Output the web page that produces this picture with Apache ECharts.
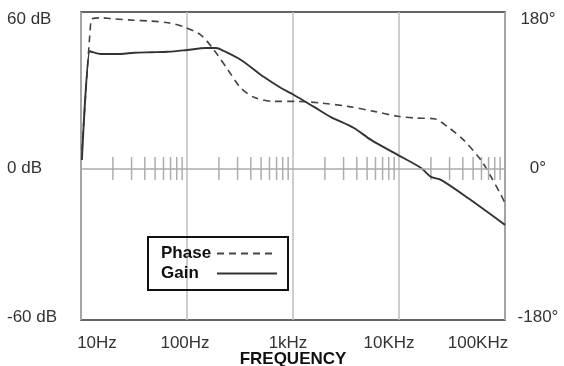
<!DOCTYPE html>
<html>
<head>
<meta charset="utf-8">
<script src="https://cdn.jsdelivr.net/npm/echarts@6/dist/echarts.min.js"></script>
<style>
html,body{margin:0;padding:0;background:#fff;}
#chart{width:564px;height:366px;}
</style>
</head>
<body>
<div id="chart"></div>
<script>
// ---- data ----
var gainFreq = [10.2, 12.1, 12.5, 15.4, 23.8, 31.6, 45.7, 66.2, 100, 151, 188, 223, 323, 533, 771, 1021, 1577, 2281, 3760, 5445, 9791, 16150, 20060, 24890, 44740, 100000];
var gainDb   = [3.4, 47.3, 47.0, 46.1, 46.1, 46.6, 46.8, 47.0, 47.7, 48.5, 48.5, 47.3, 43.7, 36.8, 32.4, 29.6, 24.8, 20.7, 16.3, 11.5, 5.4, 0.2, -3.4, -4.6, -11.9, -22.7];
var phaseFreq = [10.2, 12.4, 12.8, 15.4, 19.2, 31.6, 45.7, 66.2, 93.7, 135.6, 179.8, 243.6, 323, 428.5, 661.8, 1114, 1837, 3302, 5808, 9791, 13870, 21400, 28970, 41010, 59370, 73800, 91690, 100000];
var phaseDeg  = [22, 179, 181, 182, 181, 179, 178, 176, 171, 161, 143, 119, 97, 86, 81, 81, 79, 75, 69, 63, 61, 60, 50, 34, 10, -10, -32, -42];
var xTickValues = [10, 100, 1000, 10000, 100000];
var xTickLabels = ['10Hz', '100Hz', '1kHz', '10KHz', '100KHz'];
var dbTicks = [-60, 0, 60];
var degTicks = [-180, 0, 180];
var minorDecades = [10, 100, 1000, 10000];
var minorMultipliers = [2, 3, 4, 5, 6, 7, 8, 9];
var seriesNames = ['Phase', 'Gain'];

// ---- build ----
function zip(a, b) { return a.map(function (v, i) { return [v, b[i]]; }); }
var minorTicks = [];
minorDecades.forEach(function (d) { minorMultipliers.forEach(function (m) { minorTicks.push([d * m, 0]); }); });

var FONT = 'Liberation Sans, Arial, sans-serif';
// horizontal shift of each x label (px) relative to its tick
var xLabelShift = [16, -2, -5, -10, -27];
var rich = {};
xLabelShift.forEach(function (s, i) {
  rich['l' + i] = {
    fontFamily: FONT, fontSize: 17, color: '#333',
    padding: s >= 0 ? [0, 0, 0, 2 * s] : [0, -2 * s, 0, 0]
  };
});

var chart = echarts.init(document.getElementById('chart'), null, { renderer: 'canvas' });
chart.setOption({
  animation: false,
  backgroundColor: '#fff',
  grid: { left: 81, right: 59, top: 12, bottom: 46, outerBoundsMode: 'none', containLabel: false,
    show: true, borderColor: '#333', borderWidth: 1.6, backgroundColor: 'transparent' },
  legend: {
    orient: 'vertical', left: 148, top: 237, align: 'right',
    itemWidth: 60, itemHeight: 14, itemGap: 3,
    padding: [8, 10, 8, 13], borderColor: '#111', borderWidth: 2,
    itemStyle: { opacity: 0 },
    formatter: function (name) { return '{a|' + name + '}'; },
    textStyle: {
      fontFamily: FONT, fontSize: 17, fontWeight: 'bold', color: '#111',
      rich: { a: { fontFamily: FONT, fontSize: 17, fontWeight: 'bold', color: '#111', width: 51, align: 'left' } }
    },
    data: seriesNames
  },
  xAxis: {
    type: 'log', logBase: 10, min: 10, max: 100000,
    axisLine: { show: false }, axisTick: { show: false },
    splitLine: { show: true, lineStyle: { color: '#bdbdbd', width: 1.5 } },
    axisLabel: {
      margin: 15,
      customValues: xTickValues,
      formatter: function (v) {
        var i = Math.round(Math.log10(v)) - 1;
        if (i < 0 || i >= xTickLabels.length) return '';
        return '{l' + i + '|' + xTickLabels[i] + '}';
      },
      rich: rich
    },
    name: 'FREQUENCY', nameLocation: 'middle', nameGap: 31, nameMoveOverlap: false,
    nameTextStyle: { fontFamily: FONT, fontSize: 17, fontWeight: 'bold', color: '#111' }
  },
  yAxis: [
    {
      type: 'value', min: -61, max: 63, position: 'left',
      axisLine: { show: false }, axisTick: { show: false }, splitLine: { show: false },
      axisLabel: { customValues: dbTicks, align: 'left', margin: 74, fontFamily: FONT, fontSize: 17, color: '#333',
        formatter: function (v) { return v + ' dB'; } }
    },
    {
      type: 'value', min: -183, max: 189, position: 'right',
      axisLine: { show: false }, axisTick: { show: false }, splitLine: { show: false },
      axisLabel: { customValues: degTicks, align: 'center', margin: 33, fontFamily: FONT, fontSize: 17, color: '#333',
        formatter: function (v) { return v + '°'; } }
    }
  ],
  series: [
    {
      name: 'ticks', type: 'scatter', yAxisIndex: 0, silent: true,
      symbol: 'rect', symbolSize: [1.5, 23],
      itemStyle: { color: '#999' },
      data: minorTicks,
      markLine: {
        silent: true, symbol: 'none', label: { show: false },
        lineStyle: { color: '#aaa', type: 'solid', width: 1.5 },
        data: [{ yAxis: 0 }]
      },
      z: 1
    },
    {
      name: seriesNames[0], type: 'line', yAxisIndex: 1, symbol: 'none',
      smooth: 0.3,
      lineStyle: { color: '#444', width: 1.6, type: [7, 5] },
      itemStyle: { color: '#444' },
      data: zip(phaseFreq, phaseDeg), z: 3
    },
    {
      name: seriesNames[1], type: 'line', yAxisIndex: 0, symbol: 'none',
      smooth: 0.3,
      lineStyle: { color: '#333', width: 1.9, type: 'solid' },
      itemStyle: { color: '#333' },
      data: zip(gainFreq, gainDb), z: 3
    }
  ]
});
</script>
</body>
</html>
